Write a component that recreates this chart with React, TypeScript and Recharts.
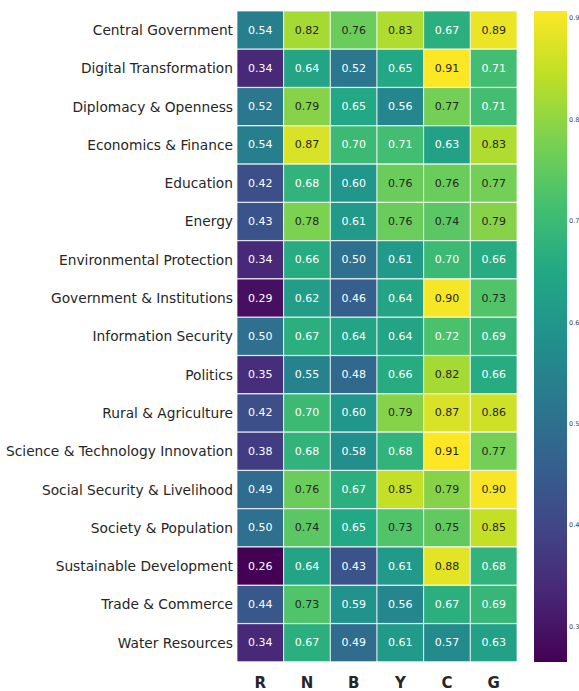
import { BarChart, Bar, XAxis, YAxis, Cell, LabelList } from 'recharts';

const topics = [
  'Central Government',
  'Digital Transformation',
  'Diplomacy & Openness',
  'Economics & Finance',
  'Education',
  'Energy',
  'Environmental Protection',
  'Government & Institutions',
  'Information Security',
  'Politics',
  'Rural & Agriculture',
  'Science & Technology Innovation',
  'Social Security & Livelihood',
  'Society & Population',
  'Sustainable Development',
  'Trade & Commerce',
  'Water Resources',
];

const columns = ['R', 'N', 'B', 'Y', 'C', 'G'];

const R = [0.54, 0.34, 0.52, 0.54, 0.42, 0.43, 0.34, 0.29, 0.5, 0.35, 0.42, 0.38, 0.49, 0.5, 0.26, 0.44, 0.34];
const N = [0.82, 0.64, 0.79, 0.87, 0.68, 0.78, 0.66, 0.62, 0.67, 0.55, 0.7, 0.68, 0.76, 0.74, 0.64, 0.73, 0.67];
const B = [0.76, 0.52, 0.65, 0.7, 0.6, 0.61, 0.5, 0.46, 0.64, 0.48, 0.6, 0.58, 0.67, 0.65, 0.43, 0.59, 0.49];
const Y = [0.83, 0.65, 0.56, 0.71, 0.76, 0.76, 0.61, 0.64, 0.64, 0.66, 0.79, 0.68, 0.85, 0.73, 0.61, 0.56, 0.61];
const C = [0.67, 0.91, 0.77, 0.63, 0.76, 0.74, 0.7, 0.9, 0.72, 0.82, 0.87, 0.91, 0.79, 0.75, 0.88, 0.67, 0.57];
const G = [0.89, 0.71, 0.71, 0.83, 0.77, 0.79, 0.66, 0.73, 0.69, 0.66, 0.86, 0.77, 0.9, 0.85, 0.68, 0.69, 0.63];

const series = [R, N, B, Y, C, G];

const colorbarTicks = [0.3, 0.4, 0.5, 0.6, 0.7, 0.8, 0.9];

const VMIN = 0.265;
const VMAX = 0.907;

// viridis anchors at 0, 0.1, ..., 1
const VIRIDIS = [
  '#440154', '#482475', '#414487', '#355f8d', '#2a788e', '#21918c',
  '#22a884', '#44bf70', '#7ad151', '#bddf26', '#fde725',
];

const hexToRgb = (h: string) => [1, 3, 5].map((i) => parseInt(h.slice(i, i + 2), 16));

const viridis = (v: number) => {
  const t = Math.max(0, Math.min(1, (v - VMIN) / (VMAX - VMIN))) * 10;
  const i = Math.min(9, Math.floor(t));
  const f = t - i;
  const a = hexToRgb(VIRIDIS[i]);
  const b = hexToRgb(VIRIDIS[i + 1]);
  const c = a.map((x, k) => Math.round(x + (b[k] - x) * f));
  return `rgb(${c[0]},${c[1]},${c[2]})`;
};

const FONT = '"DejaVu Sans", sans-serif';

const rows = topics.map((name) => {
  const row: Record<string, string | number> = { name };
  columns.forEach((c) => (row[c] = 1));
  return row;
});

const colorbarData = [{ name: 'cb', v: [VMIN, VMAX] }];

export default function App() {
  return (
    <div style={{ position: 'absolute', left: 0, top: 0, width: 579, height: 691, background: '#fff' }}>
      <div style={{ position: 'absolute', left: 0, top: 0 }}>
        <BarChart
          width={530}
          height={691}
          data={rows}
          layout="vertical"
          barCategoryGap={0}
          margin={{ top: 11, right: 13, left: 0, bottom: 0 }}
        >
          <XAxis
            type="number"
            domain={[0, 6]}
            ticks={[0.5, 1.5, 2.5, 3.5, 4.5, 5.5]}
            tickFormatter={(v: number) => columns[Math.floor(v)]}
            axisLine={false}
            tickLine={false}
            tickSize={0}
            tickMargin={15}
            height={29}
            interval={0}
            tick={{ fontSize: 15, fontWeight: 'bold', fill: '#262626', fontFamily: FONT }}
          />
          <YAxis
            type="category"
            dataKey="name"
            width={237}
            axisLine={false}
            tickLine={false}
            tickSize={0}
            tickMargin={4}
            interval={0}
            tick={{ fontSize: 13.75, fill: '#262626', fontFamily: FONT }}
          />
          {columns.map((col, ci) => (
            <Bar key={col} dataKey={col} stackId="h" isAnimationActive={false}>
              {series[ci].map((v, ri) => (
                <Cell key={ri} fill={viridis(v)} stroke="rgba(255,255,255,0.75)" strokeWidth={1} />
              ))}
              <LabelList
                dataKey={col}
                content={(p: any) => {
                  const v = series[ci][p.index];
                  return (
                    <text
                      x={p.x + p.width / 2}
                      y={p.y + p.height / 2}
                      textAnchor="middle"
                      dominantBaseline="central"
                      fontSize={11}
                      fontFamily={FONT}
                      fill={v >= 0.725 ? '#262626' : '#ffffff'}
                    >
                      {v.toFixed(2)}
                    </text>
                  );
                }}
              />
            </Bar>
          ))}
        </BarChart>
      </div>
      <div style={{ position: 'absolute', left: 534, top: 0 }}>
        <BarChart
          width={45}
          height={691}
          data={colorbarData}
          barCategoryGap={0}
          margin={{ top: 11, right: 0, left: 0, bottom: 29 }}
        >
          <defs>
            <linearGradient id="viridisGrad" x1="0" y1="1" x2="0" y2="0">
              {VIRIDIS.map((c, i) => (
                <stop key={i} offset={`${i * 10}%`} stopColor={c} />
              ))}
            </linearGradient>
          </defs>
          <XAxis type="category" dataKey="name" hide />
          <YAxis
            orientation="right"
            type="number"
            domain={[VMIN, VMAX]}
            ticks={colorbarTicks}
            tickFormatter={(v: number) => v.toFixed(1)}
            width={12}
            axisLine={false}
            tickLine={false}
            tickSize={0}
            tickMargin={2}
            interval={0}
            tick={{ fontSize: 6.5, fill: '#444', fontFamily: FONT }}
          />
          <Bar dataKey="v" fill="url(#viridisGrad)" isAnimationActive={false} />
        </BarChart>
      </div>
    </div>
  );
}
